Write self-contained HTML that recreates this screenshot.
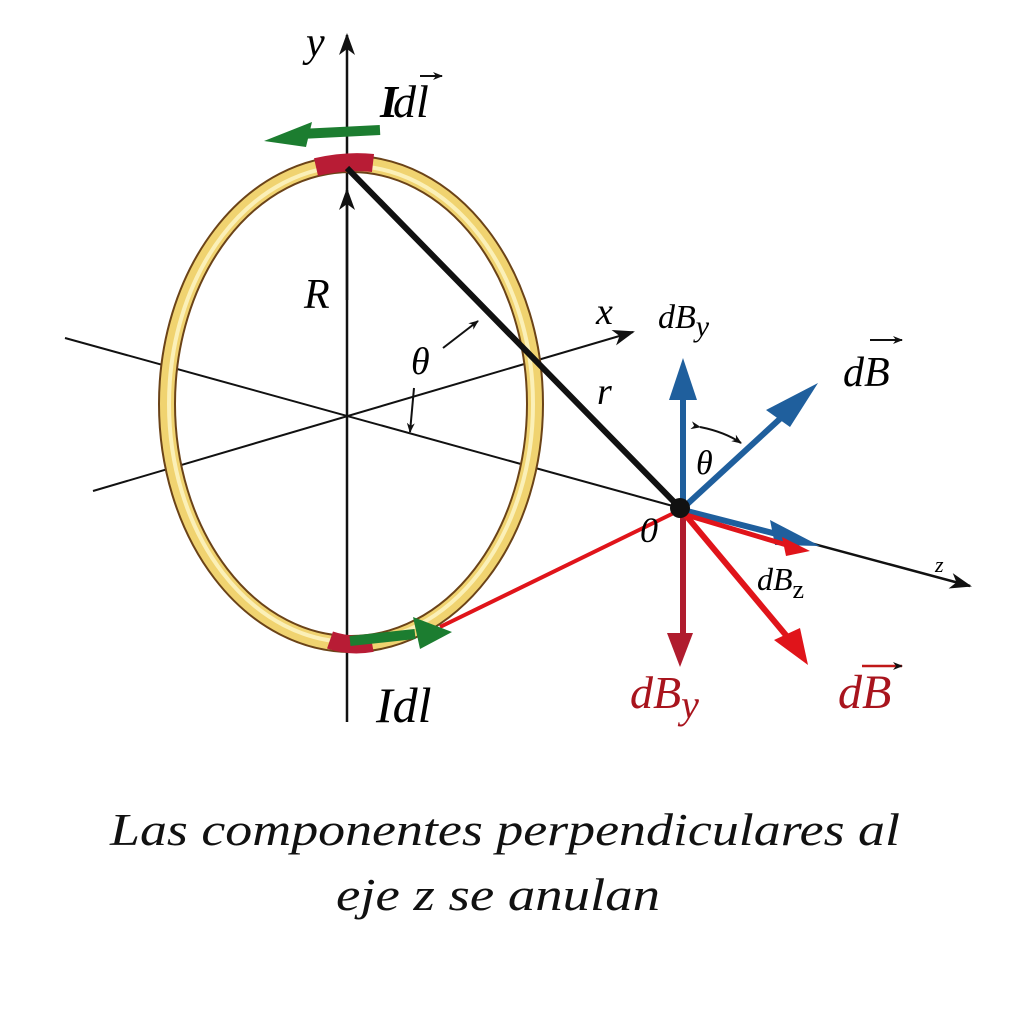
<!DOCTYPE html>
<html><head><meta charset="utf-8"><style>
body{margin:0;background:#fff;width:1024px;height:1024px;overflow:hidden}
svg text{font-family:"Liberation Serif",serif;font-style:italic}
</style></head><body>
<svg width="1024" height="1024" viewBox="0 0 1024 1024" xmlns="http://www.w3.org/2000/svg">
<defs>
<marker id="ak" markerWidth="10" markerHeight="8" refX="9" refY="4" orient="auto" markerUnits="userSpaceOnUse"><path d="M0,0L10,4L0,8L3,4z" fill="#111"/></marker>
<marker id="ak2" markerWidth="22" markerHeight="16" refX="20" refY="8" orient="auto" markerUnits="userSpaceOnUse"><path d="M0,0L22,8L0,16L6,8z" fill="#111"/></marker>
</defs>
<line x1="65" y1="338" x2="680" y2="508" stroke="#111" stroke-width="2"/>
<line x1="680" y1="508" x2="970" y2="586" stroke="#111" stroke-width="2.5" marker-end="url(#ak2)"/>
<line x1="93" y1="491" x2="633" y2="332" stroke="#111" stroke-width="2" marker-end="url(#ak2)"/>
<line x1="347" y1="722" x2="347" y2="35" stroke="#111" stroke-width="2.5" marker-end="url(#ak2)"/>
<ellipse cx="351" cy="404" rx="184" ry="240" fill="none" stroke="#6b4318" stroke-width="18"/>
<ellipse cx="351" cy="404" rx="184" ry="240" fill="none" stroke="#f0d370" stroke-width="14"/>
<ellipse cx="351" cy="404" rx="182" ry="238" fill="none" stroke="#fbf0b8" stroke-width="4"/>
<path d="M316,167 Q347,160 373,163" stroke="#b81c35" stroke-width="18" fill="none"/>
<path d="M330,640 Q350,647 372,643" stroke="#b81c35" stroke-width="18" fill="none"/>
<line x1="347" y1="300" x2="347" y2="190" stroke="#111" stroke-width="2.5" marker-end="url(#ak2)"/>
<line x1="347" y1="168" x2="680" y2="508" stroke="#111" stroke-width="6"/>
<line x1="440" y1="627" x2="680" y2="510" stroke="#e0141a" stroke-width="4"/>
<path d="M443,348 L478,321" stroke="#111" stroke-width="2" marker-end="url(#ak)"/>
<path d="M414,388 L410,432" stroke="#111" stroke-width="2" marker-end="url(#ak)"/>
<path d="M700,427 Q725,432 741,443" stroke="#111" stroke-width="2" fill="none" marker-end="url(#ak)" marker-start="url(#ak)"/>
<line x1="380" y1="130" x2="300" y2="134" stroke="#1c7d30" stroke-width="10"/>
<polygon points="264,141 312,122 306,147" fill="#1c7d30"/>
<line x1="350" y1="641" x2="415" y2="634" stroke="#1c7d30" stroke-width="10"/>
<polygon points="452,632 413,617 420,649" fill="#1c7d30"/>
<line x1="683" y1="508" x2="683" y2="395" stroke="#1f5f9d" stroke-width="6"/>
<polygon points="683,358 669,400 697,400" fill="#1f5f9d"/>
<line x1="683" y1="508" x2="795" y2="405" stroke="#1f5f9d" stroke-width="6"/>
<polygon points="818,383 766,410 790,427" fill="#1f5f9d"/>
<line x1="683" y1="510" x2="800" y2="540" stroke="#1f5f9d" stroke-width="6"/>
<polygon points="820,546 770,520 775,545" fill="#1f5f9d"/>
<line x1="683" y1="512" x2="683" y2="635" stroke="#b01c2e" stroke-width="6"/>
<polygon points="680,667 667,633 693,633" fill="#b01c2e"/>
<line x1="683" y1="512" x2="790" y2="640" stroke="#e0141a" stroke-width="6"/>
<polygon points="808,665 774,640 800,628" fill="#e0141a"/>
<line x1="683" y1="514" x2="790" y2="546" stroke="#e0141a" stroke-width="5"/>
<polygon points="810,551 782,537 786,556" fill="#e0141a"/>
<circle cx="680" cy="508" r="10" fill="#111"/>
<text x="306" y="56" font-size="42">y</text>
<text x="380" y="117" font-size="46" font-weight="bold" font-style="normal" font-family="Liberation Sans">I</text>
<text x="393" y="117" font-size="46">dl</text>
<line x1="420" y1="76" x2="442" y2="76" stroke="#111" stroke-width="2" marker-end="url(#ak)"/>
<text x="304" y="308" font-size="42">R</text>
<text x="596" y="324" font-size="38">x</text>
<text x="411" y="374" font-size="38">θ</text>
<text x="597" y="404" font-size="38">r</text>
<text x="658" y="328" font-size="34">dB<tspan font-size="30" dy="8">y</tspan></text>
<text x="843" y="386" font-size="42">dB</text>
<line x1="870" y1="340" x2="902" y2="340" stroke="#111" stroke-width="2" marker-end="url(#ak)"/>
<text x="696" y="474" font-size="34">θ</text>
<text x="640" y="542" font-size="36">0</text>
<text x="935" y="572" font-size="22">z</text>
<text x="757" y="590" font-size="32">dB<tspan font-size="26" dy="8" font-style="normal">z</tspan></text>
<text x="630" y="708" font-size="46" fill="#a8141d">dB<tspan font-size="40" dy="10">y</tspan></text>
<text x="838" y="708" font-size="48" fill="#a8141d">dB</text>
<line x1="862" y1="666" x2="902" y2="666" stroke="#c01818" stroke-width="2.5" marker-end="url(#ak)"/>
<text x="376" y="722" font-size="50">Idl</text>
<text x="110" y="845" font-size="46" fill="#111" textLength="790" lengthAdjust="spacingAndGlyphs">Las componentes perpendiculares al</text>
<text x="336" y="910" font-size="46" fill="#111" textLength="324" lengthAdjust="spacingAndGlyphs">eje z se anulan</text>
</svg>
</body></html>
